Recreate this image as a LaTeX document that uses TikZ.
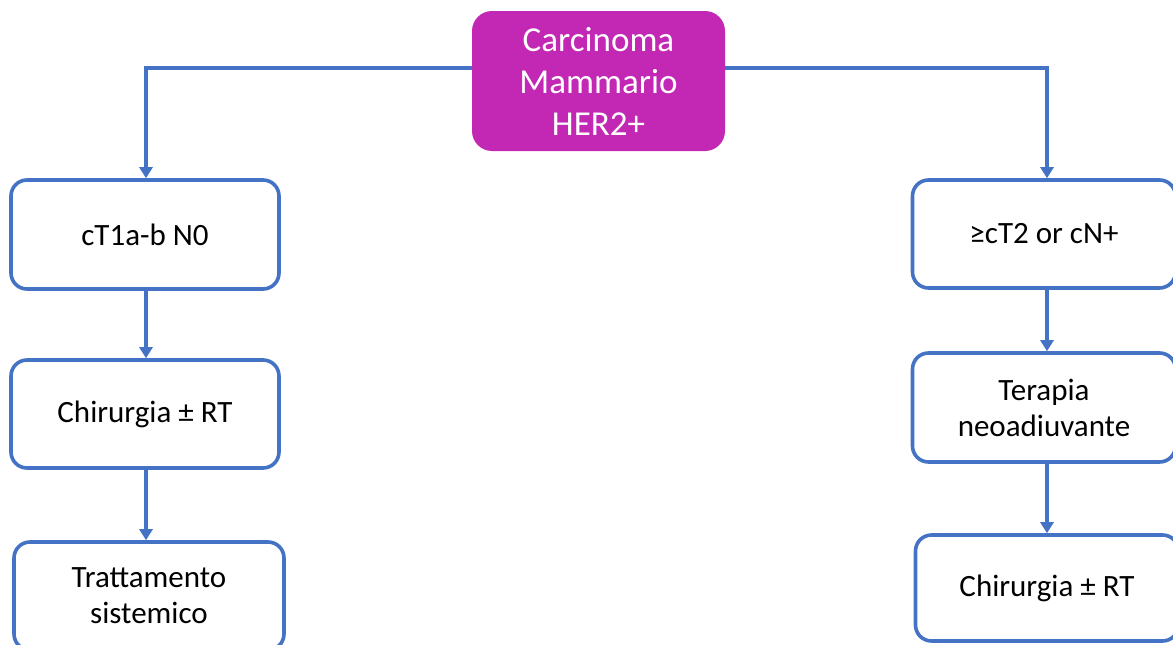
\documentclass[tikz,border=0pt]{standalone}
\usepackage{fontspec}
\setmainfont{Carlito}
\usetikzlibrary{arrows.meta}
\definecolor{obl}{HTML}{4472C4}
\definecolor{mag}{RGB}{194,40,180}
\begin{document}
\begin{tikzpicture}[x=1pt,y=-1pt,
  box/.style={draw=obl,line width=3.6pt,rounded corners=16pt,fill=white,
    inner sep=0pt,align=center,font=\fontsize{31}{36}\selectfont},
  conn/.style={draw=obl,line width=3.8pt,-{Triangle[width=13pt,length=11pt]}}]
\clip (0,0) rectangle (1173,645);
\fill[white] (0,0) rectangle (1173,645);
\node[fill=mag,rounded corners=20pt,minimum width=253pt,minimum height=140pt,
  inner sep=0pt,align=center,text=white,font=\fontsize{35}{42}\selectfont]
  (top) at (598.5,81) {Carcinoma\\Mammario\\HER2+};
\node[box,minimum width=268pt,minimum height=109pt] (L1) at (145,234.5) {cT1a-b N0};
\node[box,minimum width=268pt,minimum height=108pt] (L2) at (145,414) {Chirurgia ± RT};
\node[box,minimum width=270pt,minimum height=108pt] (L3) at (149,596) {Trattamento\\sistemico};
\node[box,minimum width=263pt,minimum height=108pt] (R1) at (1044,234) {≥cT2 or cN+};
\node[box,minimum width=263pt,minimum height=109pt] (R2) at (1044,407.5) {Terapia\\neoadiuvante};
\node[box,minimum width=263pt,minimum height=106pt] (R3) at (1047,588) {Chirurgia ± RT};
\coordinate (tl) at ([yshift=13pt]top.west);
\coordinate (tr) at ([yshift=13pt]top.east);
\draw[conn] (tl) -| ([xshift=1pt]L1.north);
\draw[conn] (tr) -| ([xshift=3pt]R1.north);
\draw[conn] ([xshift=1pt]L1.south) -- ([xshift=1pt]L2.north);
\draw[conn] ([xshift=1pt]L2.south) -- ([xshift=1pt]L2.south |- L3.north);
\draw[conn] ([xshift=3pt]R1.south) -- ([xshift=3pt]R2.north);
\draw[conn] ([xshift=3pt]R2.south) -- ([xshift=3pt]R2.south |- R3.north);
\end{tikzpicture}
\end{document}
